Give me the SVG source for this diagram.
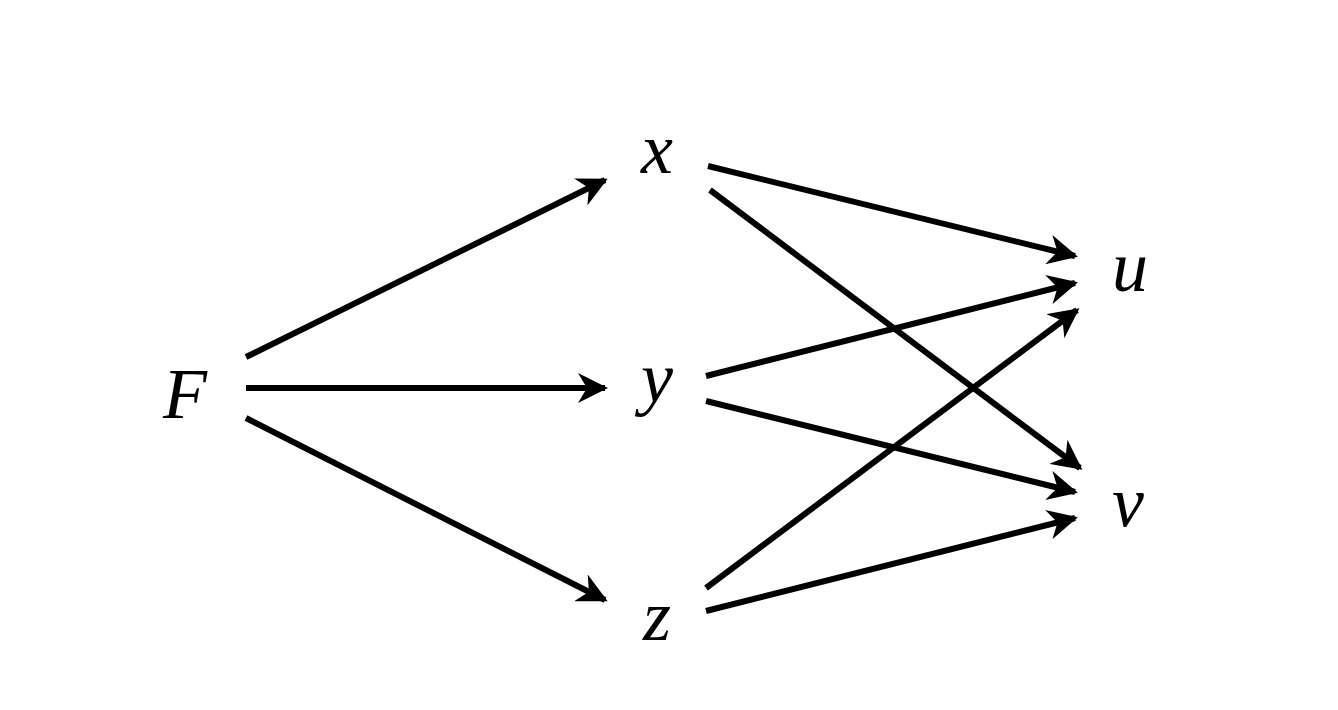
<svg xmlns="http://www.w3.org/2000/svg" width="1338" height="710" viewBox="0 0 1338 710">
<style>
.lbl{font-family:"Liberation Serif","DejaVu Serif",serif;font-style:italic;font-size:72px;fill:#000;text-anchor:middle}
.e{stroke:#000;stroke-width:6;fill:none;marker-end:url(#ah)}
</style>
<defs>
<marker id="ah" viewBox="0 0 10 10" refX="9" refY="5" markerWidth="5" markerHeight="5" orient="auto" markerUnits="strokeWidth">
<path d="M0,0 L10,5 L0,10 L3,5 Z" fill="#000"/>
</marker>
</defs>
<rect width="1338" height="710" fill="#fff"/>
<g id="connectors">
<line class="e" x1="246" y1="357" x2="605" y2="180"/>
<line class="e" x1="246" y1="388" x2="605" y2="388"/>
<line class="e" x1="246" y1="418" x2="605" y2="600"/>
<line class="e" x1="708" y1="166" x2="1075" y2="256"/>
<line class="e" x1="710" y1="190" x2="1080" y2="468"/>
<line class="e" x1="706" y1="376" x2="1075" y2="283"/>
<line class="e" x1="706" y1="401" x2="1075" y2="492"/>
<line class="e" x1="706" y1="588" x2="1077" y2="310"/>
<line class="e" x1="706" y1="611" x2="1075" y2="518"/>
</g>
<g id="F"><text class="lbl" x="185" y="418">F</text></g>
<g id="x"><text class="lbl" x="657" y="173">x</text></g>
<g id="y"><text class="lbl" x="657" y="402">y</text></g>
<g id="z"><text class="lbl" x="657" y="640">z</text></g>
<g id="u"><text class="lbl" x="1130" y="291">u</text></g>
<g id="v"><text class="lbl" x="1128" y="526">v</text></g>
</svg>
